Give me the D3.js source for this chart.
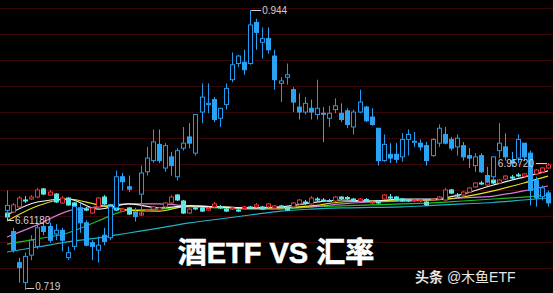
<!DOCTYPE html>
<html><head><meta charset="utf-8">
<script src="https://cdn.jsdelivr.net/npm/d3@7/dist/d3.min.js"></script>
<style>html,body{margin:0;padding:0;background:#000;overflow:hidden}</style>
</head><body>
<svg id="c" width="553" height="293"></svg>
<script>
// ETF candles [open, high, low, close]
const etf = [
[.783,.799,.777,.787],[.766,.769,.749,.751],[.741,.745,.725,.737],[.725,.749,.719,.746],[.747,.763,.743,.759],
[.754,.773,.752,.769],[.770,.773,.763,.766],[.770,.773,.757,.759],[.764,.772,.759,.767],[.767,.769,.750,.759],
[.745,.754,.743,.749],[.754,.787,.751,.786],[.785,.789,.765,.773],[.773,.775,.754,.755],[.757,.759,.743,.754],
[.751,.762,.741,.755],[.763,.769,.755,.758],[.761,.787,.759,.786],[.785,.815,.783,.810],[.810,.813,.799,.806],
[.802,.811,.798,.800],[.781,.785,.774,.778],[.796,.819,.779,.813],[.814,.834,.811,.825],[.823,.848,.821,.838],
[.836,.848,.821,.823],[.817,.837,.814,.835],[.826,.830,.811,.819],[.810,.833,.807,.831],[.833,.850,.831,.837],
[.842,.853,.833,.837],[.829,.860,.827,.860],[.862,.885,.853,.874],[.868,.885,.861,.869],[.872,.874,.854,.856],
[.857,.865,.850,.865],[.868,.885,.864,.881],[.888,.910,.886,.900],[.901,.908,.898,.907],[.902,.912,.892,.896],
[.901,.944,.900,.932],[.934,.937,.912,.926],[.918,.930,.905,.921],[.921,.930,.909,.912],[.907,.912,.880,.888],
[.885,.890,.870,.887],[.890,.901,.884,.892],[.880,.882,.862,.870],[.866,.877,.856,.862],[.862,.874,.860,.869],
[.865,.872,.856,.862],[.860,.888,.856,.865],[.861,.866,.838,.8605],[.857,.867,.850,.861],[.864,.873,.861,.867],
[.861,.869,.854,.856],[.863,.865,.849,.852],[.850,.864,.844,.862],[.862,.880,.861,.870],[.866,.867,.854,.855],
[.858,.865,.851,.852],[.849,.849,.819,.823],[.823,.844,.822,.836],[.828,.837,.821,.825],[.828,.837,.821,.824],
[.826,.845,.822,.840],[.840,.848,.827,.844],[.838,.846,.834,.8385],[.837,.840,.831,.834],[.835,.838,.819,.823],
[.827,.841,.826,.840],[.837,.852,.834,.849],[.844,.850,.836,.837],[.840,.842,.831,.833],[.834,.844,.827,.841],
[.835,.838,.823,.826],[.827,.833,.817,.825],[.819,.829,.814,.826],[.827,.829,.813,.814],[.811,.818,.805,.806],
[.810,.826,.807,.826],[.831,.853,.825,.837],[.834,.845,.823,.826],[.823,.830,.818,.821],[.825,.844,.821,.840],
[.837,.837,.823,.826],[.829,.831,.787,.799],[.807,.810,.786,.793],[.794,.803,.791,.801],[.797,.799,.786,.789]
];
// Exchange-rate candles [open, high, low, close]
const fx = [
[6.654,6.666,6.612,6.630],[6.660,6.715,6.654,6.703],[6.691,6.757,6.685,6.745],[6.733,6.757,6.715,6.730],[6.739,6.763,6.733,6.751],
[6.751,6.806,6.745,6.794],[6.800,6.806,6.763,6.769],[6.763,6.794,6.757,6.781],[6.769,6.775,6.715,6.721],[6.715,6.757,6.709,6.745],
[6.745,6.751,6.697,6.703],[6.715,6.721,6.678,6.685],[6.660,6.691,6.654,6.685],[6.678,6.691,6.666,6.676],[6.654,6.691,6.648,6.685],
[6.691,6.751,6.685,6.745],[6.751,6.763,6.703,6.709],[6.703,6.709,6.678,6.685],[6.691,6.697,6.666,6.672],[6.666,6.685,6.660,6.678],
[6.685,6.691,6.642,6.648],[6.660,6.666,6.636,6.648],[6.642,6.660,6.636,6.654],[6.666,6.678,6.660,6.672],[6.678,6.697,6.672,6.691],
[6.672,6.691,6.666,6.685],[6.691,6.721,6.685,6.715],[6.715,6.763,6.709,6.751],[6.763,6.769,6.727,6.733],[6.727,6.733,6.648,6.654],
[6.654,6.685,6.648,6.678],[6.685,6.697,6.672,6.682],[6.685,6.691,6.660,6.666],[6.672,6.691,6.666,6.682],[6.691,6.721,6.685,6.709],
[6.691,6.703,6.678,6.688],[6.678,6.685,6.660,6.666],[6.678,6.691,6.672,6.685],[6.672,6.685,6.660,6.669],[6.682,6.697,6.678,6.691],
[6.691,6.697,6.678,6.685],[6.691,6.715,6.685,6.703],[6.691,6.697,6.672,6.678],[6.691,6.715,6.685,6.709],[6.685,6.703,6.678,6.697],
[6.697,6.703,6.685,6.688],[6.691,6.697,6.666,6.672],[6.691,6.721,6.685,6.715],[6.709,6.739,6.703,6.733],[6.721,6.733,6.703,6.715],
[6.709,6.757,6.703,6.745],[6.739,6.751,6.721,6.733],[6.733,6.745,6.721,6.730],[6.730,6.739,6.721,6.727],[6.727,6.757,6.721,6.751],
[6.751,6.757,6.733,6.742],[6.748,6.757,6.733,6.742],[6.739,6.745,6.721,6.727],[6.727,6.745,6.721,6.739],[6.736,6.745,6.721,6.727],
[6.715,6.727,6.709,6.721],[6.721,6.733,6.709,6.718],[6.739,6.769,6.733,6.763],[6.751,6.769,6.733,6.748],[6.751,6.757,6.727,6.733],
[6.739,6.745,6.721,6.727],[6.733,6.739,6.721,6.727],[6.727,6.739,6.721,6.733],[6.727,6.739,6.721,6.733],[6.721,6.727,6.697,6.703],
[6.733,6.745,6.727,6.739],[6.739,6.757,6.733,6.751],[6.733,6.806,6.727,6.794],[6.794,6.800,6.769,6.775],[6.763,6.775,6.751,6.760],
[6.763,6.788,6.757,6.781],[6.781,6.812,6.775,6.806],[6.812,6.842,6.806,6.836],[6.836,6.848,6.824,6.833],[6.824,6.848,6.818,6.842],
[6.854,6.860,6.830,6.836],[6.836,6.860,6.830,6.854],[6.860,6.885,6.854,6.878],[6.872,6.885,6.860,6.869],[6.885,6.897,6.872,6.882],
[6.878,6.897,6.872,6.891],[6.885,6.909,6.878,6.903],[6.891,6.921,6.885,6.915],[6.903,6.933,6.897,6.927],[6.927,6.957,6.921,6.945]
];
// Moving-average lines of the exchange rate, read at these candle indices
const maIdx = [0,5,10,15,20,25,30,35,40,45,50,55,60,65,70,75,80,85,89];
const ma5   = [6.642,6.721,6.739,6.678,6.709,6.685,6.697,6.691,6.685,6.691,6.715,6.733,6.727,6.739,6.739,6.769,6.824,6.872,6.909];
const ma10  = [6.606,6.697,6.739,6.703,6.672,6.666,6.697,6.691,6.685,6.685,6.697,6.721,6.727,6.733,6.733,6.751,6.788,6.836,6.878];
const ma20  = [6.509,6.582,6.666,6.691,6.709,6.709,6.697,6.691,6.685,6.685,6.691,6.709,6.721,6.727,6.733,6.745,6.757,6.788,6.818];
const ma60  = [6.466,6.497,6.533,6.606,6.672,6.678,6.691,6.685,6.678,6.678,6.691,6.697,6.703,6.709,6.715,6.727,6.739,6.751,6.763];
const ma120 = [6.418,6.448,6.479,6.503,6.533,6.563,6.594,6.618,6.642,6.666,6.678,6.685,6.688,6.691,6.700,6.709,6.718,6.733,6.745];
const etfHigh = 0.944, etfLow = 0.719, fxHigh = 6.9572, fxLow = 6.6118;
const title = "酒ETF VS 汇率";
const mark1 = "头条", mark2 = " @木鱼ETF";

const svg = d3.select("#c");
const W = 553, H = 293;
svg.append("rect").attr("width", W).attr("height", H).attr("fill", "#000");

const x = d3.scaleLinear().domain([0, etf.length - 1]).range([7, 548]);
const yE = d3.scaleLinear().domain([etfLow, etfHigh]).range([290, 10]);
const yF = d3.scaleLinear().domain([fxLow, fxHigh]).range([220, 163]);

// grid
svg.append("g").selectAll("line").data(d3.range(11)).join("line")
  .attr("x1", 0).attr("x2", W)
  .attr("y1", k => 8.5 + 26 * k).attr("y2", k => 8.5 + 26 * k)
  .attr("stroke", "#380606").attr("stroke-width", 1);

// moving averages
const maDefs = [[ma120, "#1fb4c4"], [ma60, "#19c21c"], [ma20, "#d77ad9"], [ma10, "#e6e21a"], [ma5, "#f2f2f2"]];
const line = d3.line().x(d => x(d[0])).y(d => yF(d[1])).curve(d3.curveMonotoneX);
maDefs.forEach(([arr, col]) => {
  svg.append("path").datum(maIdx.map((i, k) => [i, arr[k]]))
    .attr("d", line).attr("fill", "none").attr("stroke", col).attr("stroke-width", 1.2);
});

function candles(data, yS, upCol, downCol, w) {
  const g = svg.append("g");
  data.forEach((d, i) => {
    const [o, h, l, c] = d;
    const cx = Math.round(x(i)) + 0.5;
    const up = c >= o;
    const col = up ? upCol : downCol;
    g.append("line").attr("x1", cx).attr("x2", cx).attr("y1", yS(h)).attr("y2", yS(l))
      .attr("stroke", col).attr("stroke-width", 1);
    const top = yS(Math.max(o, c)), bot = yS(Math.min(o, c));
    const hgt = Math.max(1, bot - top);
    g.append("rect").attr("x", cx - w / 2).attr("y", top).attr("width", w).attr("height", hgt)
      .attr("fill", up ? "#000" : col).attr("stroke", col).attr("stroke-width", 1);
  });
}
candles(fx, yF, "#e8363c", "#5fe6e8", 4);
candles(etf, yE, "#1e9bf0", "#2aa3f4", 4);

// extreme labels
const lab = svg.append("g").attr("font-family", "Liberation Sans, Arial, sans-serif")
  .attr("font-size", 10).attr("fill", "#cfcfcf");
const hiI = etf.findIndex(d => d[1] === etfHigh);
const loI = etf.findIndex(d => d[2] === etfLow);
const fxHiI = fx.length - 1;
function lbl(x1, y1, x2, text, tx, anchor, ty) {
  lab.append("line").attr("x1", x1).attr("x2", x2).attr("y1", y1).attr("y2", y1)
    .attr("stroke", "#cfcfcf").attr("stroke-width", 1);
  lab.append("text").attr("x", tx).attr("y", ty).attr("text-anchor", anchor).text(text);
}
lbl(x(hiI) + 1, yE(etfHigh) + 0.5, x(hiI) + 11, etfHigh.toFixed(3), x(hiI) + 12, "start", yE(etfHigh) + 4);
lbl(x(loI) + 1, yE(etfLow) - 1.5, x(loI) + 9, etfLow.toFixed(3), x(loI) + 10, "start", yE(etfLow));
lbl(x(0) + 1, yF(fxLow) + 0.5, x(0) + 7, fxLow.toFixed(5), x(0) + 8, "start", yF(fxLow) + 4);
lbl(x(fxHiI) - 1, yF(fxHigh) + 0.5, x(fxHiI) - 12, fxHigh.toFixed(5), x(fxHiI) - 14, "end", yF(fxHigh) + 4);

// title
svg.append("text").attr("x", 276).attr("y", 263).attr("text-anchor", "middle")
  .attr("font-family", "Liberation Sans, 'Noto Sans CJK SC', sans-serif")
  .attr("font-weight", 700).attr("font-size", 29).attr("fill", "#fff")
  .attr("stroke", "#fff").attr("stroke-width", 0.6)
  .text(title);

// watermark
const wm = svg.append("text").attr("x", 415).attr("y", 282)
  .attr("font-family", "'Noto Sans CJK SC', sans-serif").attr("font-size", 14).attr("fill", "#e6e6e6");
wm.append("tspan").attr("font-weight", 700).text(mark1);
wm.append("tspan").attr("font-family", "Liberation Sans, 'Noto Sans CJK SC', sans-serif").text(mark2);
</script>
</body></html>
